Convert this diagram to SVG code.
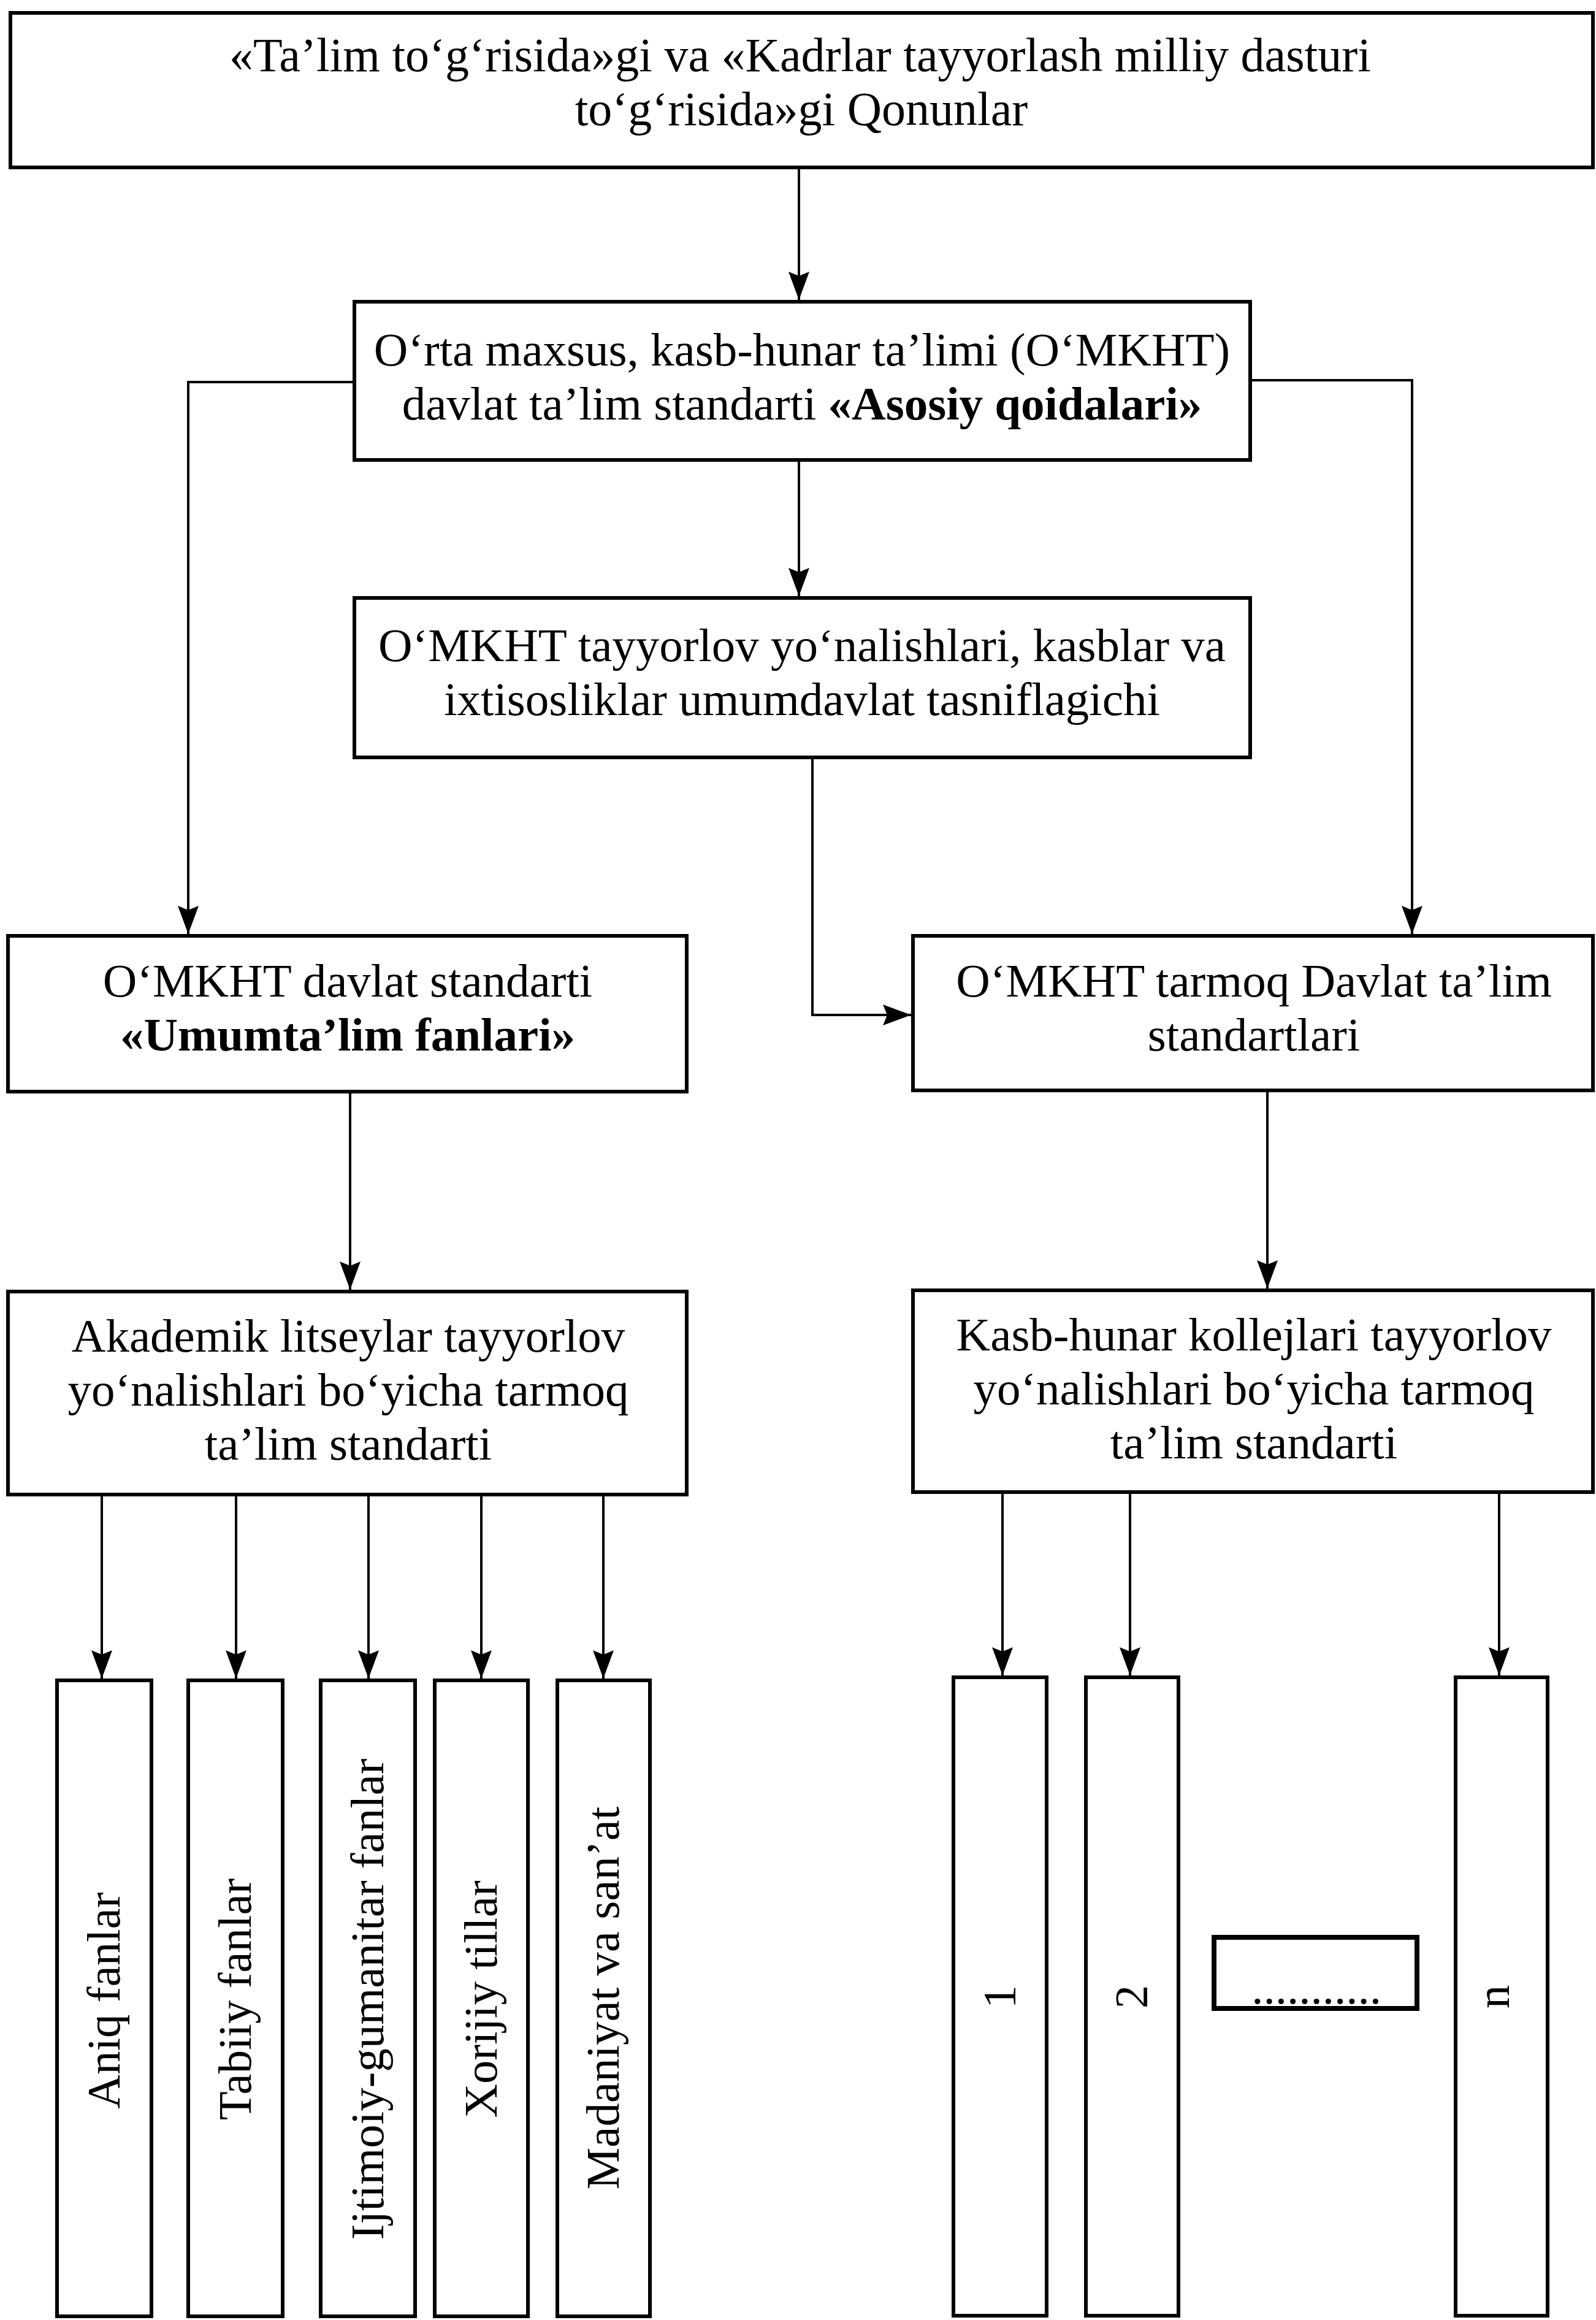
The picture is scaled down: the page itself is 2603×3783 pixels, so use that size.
<svg xmlns="http://www.w3.org/2000/svg" width="2603" height="3783" viewBox="0 0 2603 3783">
<defs>
<style>
.box{fill:#fff;stroke:#000;stroke-width:6}
.dbox{fill:#fff;stroke:#000;stroke-width:8}
.t{font-family:"Liberation Serif","Times New Roman",serif;font-size:77px;fill:#000;text-anchor:middle}
.top{font-size:78px}
.b{font-weight:bold}
.con{fill:none;stroke:#000;stroke-width:4;marker-end:url(#ah)}
</style>
<marker id="ah" markerUnits="userSpaceOnUse" viewBox="0 0 46 34" refX="46" refY="17" markerWidth="46" markerHeight="34" orient="auto">
<path d="M0,0 L46,17 L0,34 L7,17 Z" fill="#000"/>
</marker>
</defs>
<rect width="2603" height="3783" fill="#fff"/>

<g id="connectors">
<path class="con" d="M1303,273 L1303,489"/>
<path class="con" d="M578,623 L307,623 L307,1523"/>
<path class="con" d="M2039,620 L2303,620 L2303,1523"/>
<path class="con" d="M1303,750 L1303,972"/>
<path class="con" d="M1325,1235 L1325,1655 L1486,1655"/>
<path class="con" d="M571,1780 L571,2103"/>
<path class="con" d="M2067,1778 L2067,2101"/>
<path class="con" d="M166,2437 L166,2737"/>
<path class="con" d="M385,2437 L385,2737"/>
<path class="con" d="M601,2437 L601,2737"/>
<path class="con" d="M785,2437 L785,2737"/>
<path class="con" d="M984,2437 L984,2737"/>
<path class="con" d="M1635,2433 L1635,2732"/>
<path class="con" d="M1843,2433 L1843,2732"/>
<path class="con" d="M2445,2433 L2445,2732"/>
</g>

<g id="n-laws">
<rect class="box" x="17" y="21" width="2581" height="252"/>
<text class="t top" x="1305" y="116">«Ta’lim to‘g‘risida»gi va «Kadrlar tayyorlash milliy dasturi</text>
<text class="t top" x="1307" y="204">to‘g‘risida»gi Qonunlar</text>
</g>

<g id="n-asosiy">
<rect class="box" x="578" y="492" width="1461" height="258"/>
<text class="t" x="1308" y="596">O‘rta maxsus, kasb-hunar ta’limi (O‘MKHT)</text>
<text class="t" x="1308" y="684">davlat ta’lim standarti <tspan class="b">«Asosiy qoidalari»</tspan></text>
</g>

<g id="n-tasnif">
<rect class="box" x="578" y="975" width="1461" height="260"/>
<text class="t" x="1308" y="1078">O‘MKHT tayyorlov yo‘nalishlari, kasblar va</text>
<text class="t" x="1308" y="1166">ixtisosliklar umumdavlat tasniflagichi</text>
</g>

<g id="n-umumtalim">
<rect class="box" x="13" y="1526" width="1107" height="254"/>
<text class="t" x="567" y="1625">O‘MKHT davlat standarti</text>
<text class="t b" x="567" y="1713">«Umumta’lim fanlari»</text>
</g>

<g id="n-tarmoq">
<rect class="box" x="1489" y="1526" width="1109" height="252"/>
<text class="t" x="2045" y="1625">O‘MKHT tarmoq Davlat ta’lim</text>
<text class="t" x="2045" y="1713">standartlari</text>
</g>

<g id="n-litsey">
<rect class="box" x="13" y="2106" width="1107" height="331"/>
<text class="t" x="568" y="2204">Akademik litseylar tayyorlov</text>
<text class="t" x="568" y="2292">yo‘nalishlari bo‘yicha tarmoq</text>
<text class="t" x="568" y="2380">ta’lim standarti</text>
</g>

<g id="n-kollej">
<rect class="box" x="1489" y="2104" width="1109" height="329"/>
<text class="t" x="2045" y="2202">Kasb-hunar kollejlari tayyorlov</text>
<text class="t" x="2045" y="2290">yo‘nalishlari bo‘yicha tarmoq</text>
<text class="t" x="2045" y="2378">ta’lim standarti</text>
</g>

<g id="n-aniq">
<rect class="box" x="93" y="2740" width="154" height="1037"/>
<text class="t" transform="translate(195,3262) rotate(-90)">Aniq fanlar</text>
</g>
<g id="n-tabiiy">
<rect class="box" x="307" y="2740" width="154" height="1037"/>
<text class="t" transform="translate(409,3260) rotate(-90)">Tabiiy fanlar</text>
</g>
<g id="n-ijtimoiy">
<rect class="box" x="523" y="2740" width="154" height="1037"/>
<text class="t" transform="translate(625,3260) rotate(-90)">Ijtimoiy-gumanitar fanlar</text>
</g>
<g id="n-xorijiy">
<rect class="box" x="709" y="2740" width="152" height="1037"/>
<text class="t" transform="translate(810,3260) rotate(-90)">Xorijiy tillar</text>
</g>
<g id="n-madaniyat">
<rect class="box" x="909" y="2740" width="151" height="1037"/>
<text class="t" transform="translate(1009,3258) rotate(-90)">Madaniyat va san’at</text>
</g>

<g id="n-1">
<rect class="box" x="1555" y="2735" width="152" height="1041"/>
<text class="t" transform="translate(1656,3256) rotate(-90)">1</text>
</g>
<g id="n-2">
<rect class="box" x="1771" y="2735" width="151" height="1041"/>
<text class="t" transform="translate(1871,3256) rotate(-90)">2</text>
</g>
<g id="n-dots">
<rect class="dbox" x="1980" y="3159" width="331" height="116"/>
<text class="t" x="2147" y="3267">...........</text>
</g>
<g id="n-n">
<rect class="box" x="2374" y="2735" width="150" height="1041"/>
<text class="t" transform="translate(2461,3256) rotate(-90)">n</text>
</g>
</svg>
